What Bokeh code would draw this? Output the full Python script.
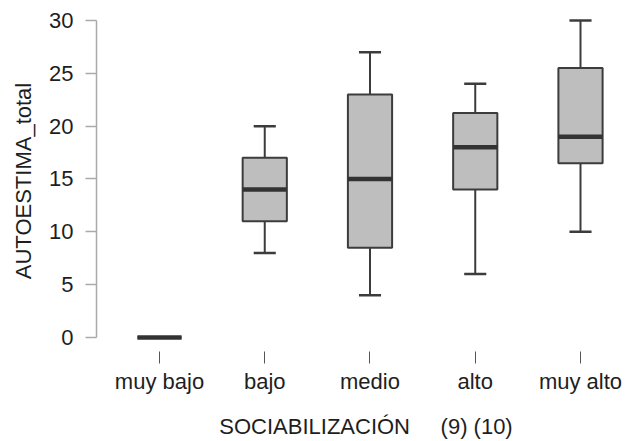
from bokeh.plotting import figure
from bokeh.models import Range1d, FixedTicker, ColumnDataSource
from bokeh.embed import file_html
from bokeh.resources import INLINE

categories = ["muy bajo", "bajo", "medio", "alto", "muy alto"]
lower = [0, 8, 4, 6, 10]
q1 = [0, 11, 8.5, 14, 16.5]
median = [0, 14, 15, 18, 19]
q3 = [0, 17, 23, 21.25, 25.5]
upper = [0, 20, 27, 24, 30]
y_ticks = [0, 5, 10, 15, 20, 25, 30]

xs = list(range(1, len(categories) + 1))
box_w = 0.42
cap_w = 0.21

src = ColumnDataSource(dict(x=xs, lower=lower, q1=q1, median=median, q3=q3, upper=upper,
                            cl=[x - cap_w / 2 for x in xs], cr=[x + cap_w / 2 for x in xs],
                            ml=[x - box_w / 2 for x in xs], mr=[x + box_w / 2 for x in xs]))

p = figure(width=635, height=441, output_backend="svg", toolbar_location=None,
           x_range=Range1d(0.4014, 5.5226), y_range=Range1d(-1.32, 30.94),
           min_border_left=96, min_border_right=0, min_border_top=10, min_border_bottom=89)
p.outline_line_color = None
p.xgrid.visible = False
p.ygrid.visible = False

FONT = "Liberation Sans"
ink = "#3c3c3c"
txt = "#1e1e1e"

# whiskers
p.segment(x0="x", y0="q3", x1="x", y1="upper", source=src, line_color=ink, line_width=2)
p.segment(x0="x", y0="q1", x1="x", y1="lower", source=src, line_color=ink, line_width=2)
p.segment(x0="cl", y0="upper", x1="cr", y1="upper", source=src, line_color=ink, line_width=2.5)
p.segment(x0="cl", y0="lower", x1="cr", y1="lower", source=src, line_color=ink, line_width=2.5)
# boxes
p.vbar(x="x", width=box_w, bottom="q1", top="q3", source=src,
       fill_color="#bebebe", line_color=ink, line_width=2)
# medians
p.segment(x0="ml", y0="median", x1="mr", y1="median", source=src, line_color="#333333", line_width=4.5)

# axes
xa = p.xaxis[0]
xa.ticker = FixedTicker(ticks=xs)
xa.major_label_overrides = {x: c for x, c in zip(xs, categories)}
xa.axis_line_color = None
xa.major_tick_in = 0
xa.major_tick_out = 12
xa.major_tick_line_color = "#555555"
xa.major_tick_line_width = 1
xa.minor_tick_line_color = None
xa.major_label_standoff = 5
xa.major_label_text_font = FONT
xa.major_label_text_font_size = "22px"
xa.major_label_text_color = txt
xa.axis_label = "SOCIABILIZACIÓN\u00a0\u00a0\u00a0\u00a0 (9) (10)"
xa.axis_label_text_font = FONT
xa.axis_label_text_font_size = "22px"
xa.axis_label_text_font_style = "normal"
xa.axis_label_text_color = txt
xa.axis_label_standoff = 17

ya = p.yaxis[0]
ya.ticker = FixedTicker(ticks=y_ticks)
ya.bounds = (min(y_ticks), max(y_ticks))
ya.axis_line_color = "#aaaaaa"
ya.axis_line_width = 1.5
ya.major_tick_in = 0
ya.major_tick_out = 11
ya.major_tick_line_color = "#aaaaaa"
ya.major_tick_line_width = 1.5
ya.minor_tick_line_color = None
ya.major_label_standoff = 12
ya.major_label_text_font = FONT
ya.major_label_text_font_size = "22px"
ya.major_label_text_color = txt
ya.axis_label = "AUTOESTIMA_total"
ya.axis_label_text_font = FONT
ya.axis_label_text_font_size = "22px"
ya.axis_label_text_font_style = "normal"
ya.axis_label_text_color = txt
ya.axis_label_standoff = 10

open("out.html", "w").write(file_html(p, INLINE))
